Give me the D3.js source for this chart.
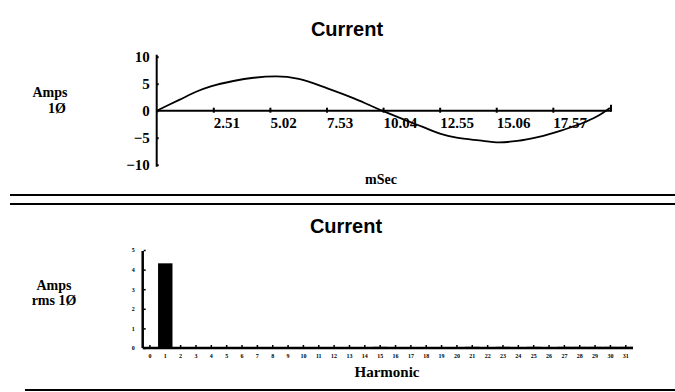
<!DOCTYPE html>
<html><head><meta charset="utf-8">
<script src="https://cdn.jsdelivr.net/npm/d3@7"></script>
<style>
html,body{margin:0;padding:0;background:#fff;}
svg{display:block;}
.serif{font-family:"Liberation Serif","Times New Roman",serif;font-weight:bold;fill:#000;}
.sans{font-family:"Liberation Sans",Arial,sans-serif;font-weight:bold;fill:#000;}
</style></head>
<body>
<script>
// ---- Data ----
const waveTitle = "Current";
const waveTime = [0, 1.0, 1.8, 2.4, 3.4, 4.3, 5.3, 6.3, 7.6, 8.8, 10.0, 11.0, 11.8, 12.6, 13.3, 14.3, 15.2, 16.0, 16.9, 18.0, 19.0, 19.6, 20.1];
const waveAmps = [0, 2.0, 3.6, 4.5, 5.5, 6.1, 6.35, 5.9, 4.1, 2.2, 0, -1.7, -3.0, -4.3, -5.0, -5.5, -5.85, -5.6, -4.9, -3.6, -2.1, -0.9, 0.5];
const waveXTicks = [2.51, 5.02, 7.53, 10.04, 12.55, 15.06, 17.57];
const waveXTickLabels = ["2.51", "5.02", "7.53", "10.04", "12.55", "15.06", "17.57"];
const waveYTicks = [10, 5, 0, -5, -10];

const harmTitle = "Current";
const harmonics = d3.range(0, 32);
const harmValues = [0, 4.32, 0.04, 0.04, 0.05, 0.03, 0.04, 0.05, 0.04, 0.05, 0.04, 0.05, 0.04, 0.05, 0.04, 0.06, 0.05, 0.05, 0.05, 0.05, 0.05, 0.06, 0.05, 0.06, 0.05, 0.06, 0.05, 0.06, 0.06, 0.06, 0.06, 0.06];
const harmYTicks = [0, 1, 2, 3, 4, 5];

const W = 675, H = 392;
const svg = d3.select("body").append("svg").attr("width", W).attr("height", H);

// ---- Top chart: waveform ----
const xT = d3.scaleLinear().domain([0, 20.15]).range([156.7, 611]);
const yT = d3.scaleLinear().domain([-10, 10]).range([164.7, 56.7]);

svg.append("text").attr("class", "sans").attr("x", 347).attr("y", 36)
  .attr("text-anchor", "middle").attr("font-size", 20).text(waveTitle);

// y axis
const gyT = svg.append("g").attr("transform", `translate(${xT(0)},0)`)
  .call(d3.axisLeft(yT).tickValues(waveYTicks).tickSize(0).tickPadding(7).tickFormat(d3.format("d")));
gyT.select(".domain").attr("d", `M0,${yT(10) - 2}V${yT(-10) + 2}`).attr("stroke", "#000").attr("stroke-width", 2);
gyT.selectAll("text").attr("class", "serif").attr("font-size", 15).attr("fill", "#000");
gyT.selectAll(".tick").append("line").attr("x1", 0).attr("x2", 2).attr("stroke", "#000").attr("stroke-width", 2);

// x axis at zero
const gxT = svg.append("g").attr("transform", `translate(0,${yT(0)})`)
  .call(d3.axisBottom(xT).tickValues(waveXTicks).tickSize(0).tickFormat((d, i) => waveXTickLabels[i]));
gxT.select(".domain").attr("d", `M${xT(0)},0H${xT(20.15)}`).attr("stroke", "#000").attr("stroke-width", 2);
gxT.selectAll(".tick line").attr("y1", -3).attr("y2", 2).attr("stroke", "#000").attr("stroke-width", 2);
gxT.selectAll("text").attr("class", "serif").attr("font-size", 15).attr("fill", "#000")
  .attr("text-anchor", "start").attr("dy", null).attr("y", 17);
gxT.append("line").attr("x1", xT(20.15)).attr("x2", xT(20.15)).attr("y1", -6).attr("y2", 1)
  .attr("stroke", "#000").attr("stroke-width", 2);

svg.append("path").datum(waveTime.map((t, i) => [t, waveAmps[i]]))
  .attr("d", d3.line().x(d => xT(d[0])).y(d => yT(d[1])).curve(d3.curveMonotoneX))
  .attr("fill", "none").attr("stroke", "#000").attr("stroke-width", 1.8);

svg.append("text").attr("class", "serif").attr("x", 50).attr("y", 97).attr("text-anchor", "middle")
  .attr("font-size", 14).text("Amps");
svg.append("text").attr("class", "serif").attr("x", 57).attr("y", 113).attr("text-anchor", "middle")
  .attr("font-size", 14).text("1Ø");
svg.append("text").attr("class", "serif").attr("x", 381).attr("y", 184).attr("text-anchor", "middle")
  .attr("font-size", 14).text("mSec");

// separators
[195, 204].forEach(y => svg.append("line").attr("x1", 10).attr("x2", 675).attr("y1", y).attr("y2", y)
  .attr("stroke", "#000").attr("stroke-width", 2));
svg.append("line").attr("x1", 25).attr("x2", 675).attr("y1", 390).attr("y2", 390)
  .attr("stroke", "#000").attr("stroke-width", 2);

// ---- Bottom chart: harmonics ----
const xB = d3.scaleBand().domain(harmonics).range([142.7, 633]).paddingInner(0.06).paddingOuter(0).align(0);
const yB = d3.scaleLinear().domain([0, 5]).range([348, 250]);

svg.append("text").attr("class", "sans").attr("x", 346).attr("y", 233)
  .attr("text-anchor", "middle").attr("font-size", 20).text(harmTitle);

svg.selectAll("rect.bar").data(harmonics).enter().append("rect").attr("class", "bar")
  .attr("x", d => xB(d)).attr("width", xB.bandwidth())
  .attr("y", d => yB(harmValues[d])).attr("height", d => yB(0) - yB(harmValues[d]))
  .attr("fill", "#000");

const gyB = svg.append("g").attr("transform", `translate(142.7,0)`)
  .call(d3.axisLeft(yB).tickValues(harmYTicks).tickSize(0).tickPadding(8).tickFormat(d3.format("d")));
gyB.select(".domain").attr("d", `M0,${yB(5) + 1}V${yB(0)}`).attr("stroke", "#000").attr("stroke-width", 2.5);
gyB.selectAll("text").attr("class", "serif").attr("font-size", 6).attr("fill", "#000");
gyB.selectAll(".tick").append("line").attr("x1", 1).attr("x2", 3).attr("stroke", "#000").attr("stroke-width", 1.5);

const gxB = svg.append("g").attr("transform", `translate(0,${yB(0)})`)
  .call(d3.axisBottom(xB).tickSize(0).tickFormat(d3.format("d")));
gxB.select(".domain").attr("d", `M142.7,0H633`).attr("stroke", "#000").attr("stroke-width", 2.5);
gxB.selectAll(".tick line").attr("y1", -3).attr("y2", 0).attr("stroke", "#000").attr("stroke-width", 1.5);
gxB.selectAll("text").attr("class", "serif").attr("font-size", 6).attr("fill", "#000")
  .attr("dy", null).attr("y", 10);

svg.append("text").attr("class", "serif").attr("x", 54).attr("y", 290).attr("text-anchor", "middle")
  .attr("font-size", 14).text("Amps");
svg.append("text").attr("class", "serif").attr("x", 54).attr("y", 305).attr("text-anchor", "middle")
  .attr("font-size", 14).text("rms 1Ø");
svg.append("text").attr("class", "serif").attr("x", 387).attr("y", 377).attr("text-anchor", "middle")
  .attr("font-size", 15).text("Harmonic");
</script>
</body></html>
